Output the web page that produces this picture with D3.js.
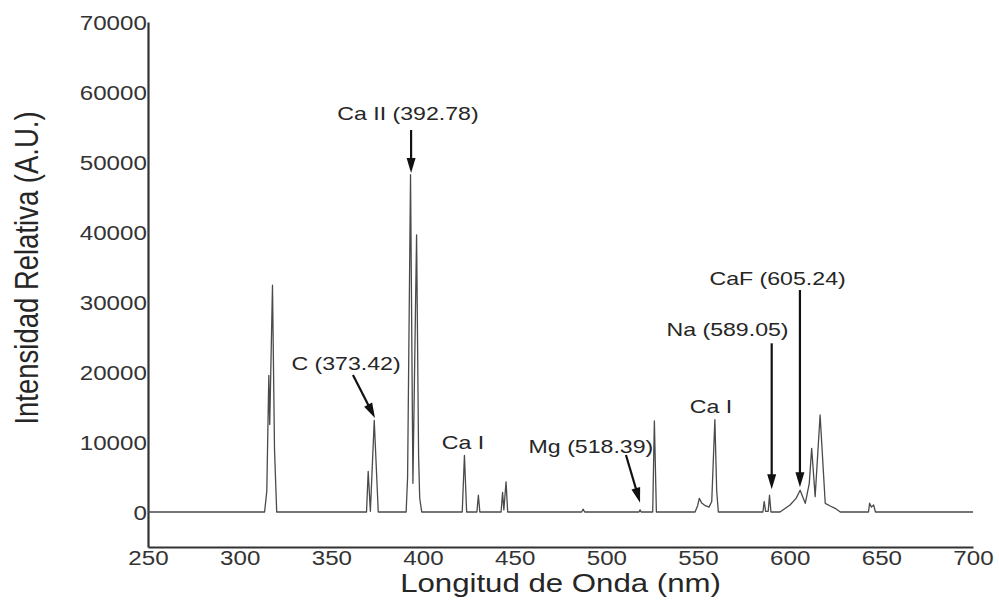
<!DOCTYPE html>
<html>
<head>
<meta charset="utf-8">
<script src="https://cdn.jsdelivr.net/npm/d3@7"></script>
<style>
  html, body { margin: 0; padding: 0; background: #fff; }
  svg { display: block; font-family: "Liberation Sans", Arial, sans-serif; }
</style>
</head>
<body>
<svg id="chart" width="999" height="607"></svg>
<script>
"use strict";

// spectrum: wavelength (nm) / intensity (A.U.)
const wavelength = [
  250, 313.6, 314.8, 315.9, 316.4, 317.9, 319.0, 320.2,
  369.2, 370.1, 371.3, 373.4, 375.6,
  390.8, 391.6, 393.2, 394.5, 396.5, 397.6, 398.2, 399.3,
  421.4, 422.6, 423.8,
  429.4, 430.2, 431.0,
  442.6, 443.4, 444.1, 445.3, 446.2,
  486.5, 487.3, 488.2,
  517.8, 518.4, 519.0,
  525.3, 526.2, 527.3,
  548.4, 549.8, 550.7, 552.0, 554.0, 556.0, 557.5, 559.2, 560.2, 561.1,
  585.4, 586.1, 586.9, 588.3, 589.0, 589.8,
  594.7, 600.2, 603.5, 605.7, 608.5, 610.7, 612.0, 613.9, 616.6, 619.4, 622.1, 624.8, 627.6,
  643.0, 643.6, 644.6, 645.8, 646.8,
  700
];
const intensity = [
  0, 0, 3000, 19500, 12500, 32400, 9000, 0,
  0, 5800, 100, 13100, 0,
  0, 5000, 48200, 4100, 39600, 8000, 2000, 0,
  0, 8100, 0,
  0, 2400, 0,
  0, 2800, 300, 4300, 0,
  0, 400, 0,
  0, 300, 0,
  0, 13000, 0,
  0, 900, 1950, 1300, 900, 700, 1500, 13200, 3000, 0,
  0, 1500, 100, 100, 2400, 0,
  0, 1000, 1950, 3100, 1240, 4100, 9100, 2190, 13860, 1240, 860, 530, 0,
  0, 1250, 700, 1000, 0,
  0
];

const xTicks = [250, 300, 350, 400, 450, 500, 550, 600, 650, 700];
const yTicks = [0, 10000, 20000, 30000, 40000, 50000, 60000, 70000];

// annotations: label, label centre (nm, A.U.), arrow tail and tip (nm, A.U.)
const annLabel = ["Ca II (392.78)", "C (373.42)", "Ca I", "Mg (518.39)", "Ca I", "Na (589.05)", "CaF (605.24)"];
const annLabelX = [391.8, 358.0, 421.8, 491.6, 557.1, 566.1, 593.4];
const annLabelY = [56930, 21240, 9860, 9330, 15140, 26100, 33390];
const annTailX = [393.5, 361.8, null, 510.7, null, 590.2, 605.6];
const annTailY = [54570, 19570, null, 8140, null, 24100, 31710];
const annTipX = [393.5, 373.8, null, 518.4, null, 590.2, 605.6];
const annTipY = [48430, 13430, null, 1330, null, 3240, 3530];

const svg = d3.select("#chart");
const ink = "#262626";

const x = d3.scaleLinear().domain([250, 700]).range([148, 973]);
const y = d3.scaleLinear().domain([-5000, 70000]).range([547, 22]);

// axes (no tick marks, just the labels and the spine)
const xAxis = svg.append("g")
  .attr("transform", `translate(0, ${y(-5000)})`)
  .call(d3.axisBottom(x).tickValues(xTicks).tickSize(0).tickPadding(3).tickFormat(d3.format("d")));
const yAxis = svg.append("g")
  .attr("transform", `translate(${x(250)}, 0)`)
  .call(d3.axisLeft(y).tickValues(yTicks).tickSize(0).tickPadding(1).tickFormat(d3.format("d")));

[xAxis, yAxis].forEach((g) => {
  g.select(".domain").attr("stroke", "#333").attr("stroke-width", 2.2);
  g.selectAll("text")
    .attr("fill", "#333")
    .style("font-size", "21px")
    .attr("transform", "scale(1.15,1)");
});
yAxis.selectAll("text").attr("dy", "0.35em");

// spectrum
const line = d3.line()
  .x((d) => x(d[0]))
  .y((d) => y(d[1]));

svg.append("path")
  .datum(d3.zip(wavelength, intensity))
  .attr("d", line)
  .attr("fill", "none")
  .attr("stroke", "#4a4a4a")
  .attr("stroke-width", 1.3)
  .attr("stroke-linejoin", "round");

// axis titles
svg.append("text")
  .attr("transform", `translate(${(x(250) + x(700)) / 2}, 592) scale(1.2,1)`)
  .attr("text-anchor", "middle")
  .attr("fill", ink)
  .style("font-size", "26px")
  .text("Longitud de Onda (nm)");

svg.append("text")
  .attr("transform", "translate(38, 268) scale(1.22,1) rotate(-90)")
  .attr("text-anchor", "middle")
  .attr("fill", ink)
  .style("font-size", "27.5px")
  .text("Intensidad Relativa (A.U.)");

// labels and arrows
annLabel.forEach((label, i) => {
  svg.append("text")
    .attr("transform", `translate(${x(annLabelX[i])}, ${y(annLabelY[i])}) scale(1.25,1)`)
    .attr("text-anchor", "middle")
    .attr("dy", "0.35em")
    .attr("fill", ink)
    .style("font-size", "18.5px")
    .text(label);

  if (annTailX[i] == null) return;

  const x1 = x(annTailX[i]), y1 = y(annTailY[i]);
  const x2 = x(annTipX[i]), y2 = y(annTipY[i]);
  const len = Math.hypot(x2 - x1, y2 - y1);
  const ux = (x2 - x1) / len, uy = (y2 - y1) / len;
  const headL = 15, headW = 9;

  svg.append("line")
    .attr("x1", x1).attr("y1", y1)
    .attr("x2", x2 - ux * headL * 0.6).attr("y2", y2 - uy * headL * 0.6)
    .attr("stroke", "#111")
    .attr("stroke-width", 2.2);

  const bx = x2 - ux * headL, by = y2 - uy * headL;
  svg.append("path")
    .attr("d", `M${x2},${y2}L${bx - uy * headW / 2},${by + ux * headW / 2}L${bx + uy * headW / 2},${by - ux * headW / 2}Z`)
    .attr("fill", "#111");
});
</script>
</body>
</html>
